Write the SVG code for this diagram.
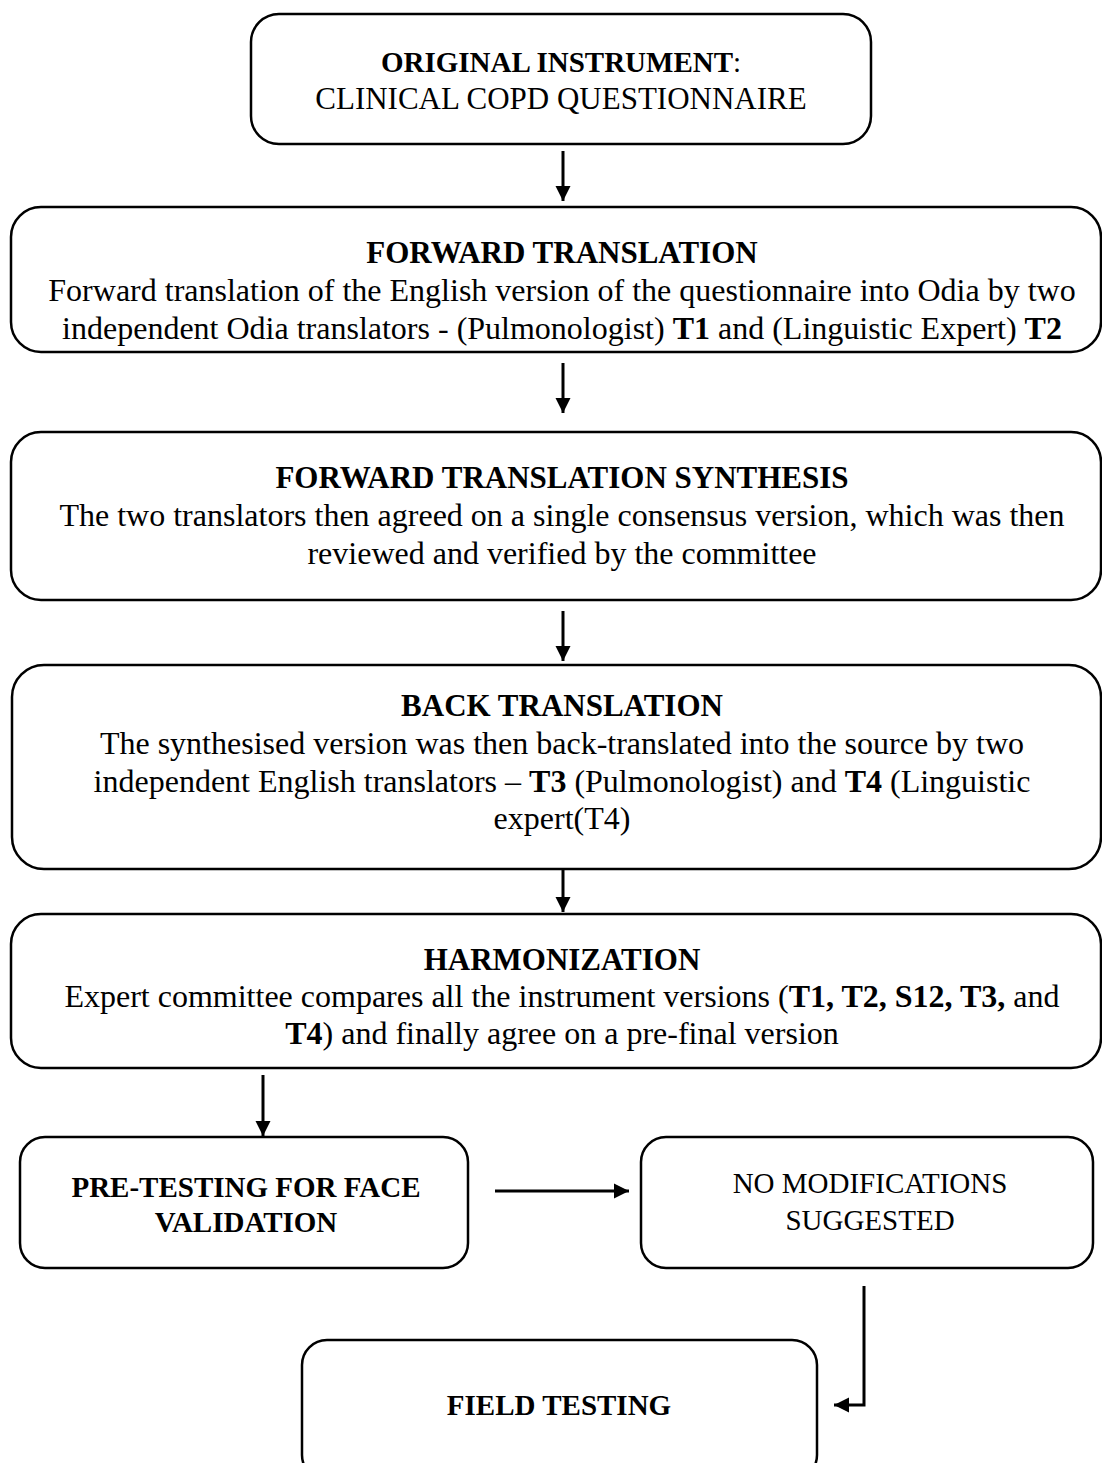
<svg xmlns="http://www.w3.org/2000/svg" width="1102" height="1463" viewBox="0 0 1102 1463">
<style>
.box{fill:#fff;stroke:#000;stroke-width:2.5}
.t{font-family:"Liberation Serif","Times New Roman",serif;font-size:32px;fill:#000;text-anchor:middle}
.h{font-size:31px;font-weight:bold}
.s{font-size:29px}
.b{font-weight:bold}
.c{stroke:#000;stroke-width:3;fill:none}
</style>
<defs>
<marker id="ah" viewBox="0 0 10 10" refX="10" refY="5" markerWidth="5" markerHeight="6" markerUnits="strokeWidth" orient="auto">
<path d="M0,0 L10,5 L0,10 Z" fill="#000"/>
</marker>
</defs>
<rect width="1102" height="1463" fill="#fff"/>
<g id="n1">
<rect class="box" x="251" y="14" width="620" height="130" rx="28"/>
<text class="t" x="561" y="72" style="font-size:29px"><tspan class="b">ORIGINAL INSTRUMENT</tspan>:</text>
<text class="t" x="561" y="109" style="font-size:31px">CLINICAL COPD QUESTIONNAIRE</text>
</g>
<g id="n2">
<rect class="box" x="11" y="207" width="1090" height="145" rx="30"/>
<text class="t h" x="562" y="263">FORWARD TRANSLATION</text>
<text class="t" x="562" y="301">Forward translation of the English version of the questionnaire into Odia by two</text>
<text class="t" x="562" y="339">independent Odia translators - (Pulmonologist) <tspan class="b">T1</tspan> and (Linguistic Expert) <tspan class="b">T2</tspan></text>
</g>
<g id="n3">
<rect class="box" x="11" y="432" width="1090" height="168" rx="30"/>
<text class="t h" x="562" y="488">FORWARD TRANSLATION SYNTHESIS</text>
<text class="t" x="562" y="526">The two translators then agreed on a single consensus version, which was then</text>
<text class="t" x="562" y="564">reviewed and verified by the committee</text>
</g>
<g id="n4">
<rect class="box" x="12" y="665" width="1089" height="204" rx="32"/>
<text class="t h" x="562" y="716">BACK TRANSLATION</text>
<text class="t" x="562" y="754">The synthesised version was then back-translated into the source by two</text>
<text class="t" x="562" y="792">independent English translators – <tspan class="b">T3</tspan> (Pulmonologist) and <tspan class="b">T4</tspan> (Linguistic</text>
<text class="t" x="562" y="829">expert(T4)</text>
</g>
<g id="n5">
<rect class="box" x="11" y="914" width="1090" height="154" rx="30"/>
<text class="t h" x="562" y="970">HARMONIZATION</text>
<text class="t" x="562" y="1007">Expert committee compares all the instrument versions (<tspan class="b">T1, T2, S12, T3,</tspan> and</text>
<text class="t" x="562" y="1044"><tspan class="b">T4</tspan>) and finally agree on a pre-final version</text>
</g>
<g id="n6">
<rect class="box" x="20" y="1137" width="448" height="131" rx="25"/>
<text class="t s b" x="246" y="1197">PRE-TESTING FOR FACE</text>
<text class="t s b" x="246" y="1232">VALIDATION</text>
</g>
<g id="n7">
<rect class="box" x="641" y="1137" width="452" height="131" rx="25"/>
<text class="t s" x="870" y="1193">NO MODIFICATIONS</text>
<text class="t s" x="870" y="1230">SUGGESTED</text>
</g>
<g id="n8">
<rect class="box" x="302" y="1340" width="515" height="140" rx="25"/>
<text class="t s b" x="559" y="1415">FIELD TESTING</text>
</g>
<g id="connectors">
<line class="c" x1="563" y1="151" x2="563" y2="201" marker-end="url(#ah)"/>
<line class="c" x1="563" y1="363" x2="563" y2="413" marker-end="url(#ah)"/>
<line class="c" x1="563" y1="611" x2="563" y2="661" marker-end="url(#ah)"/>
<line class="c" x1="563" y1="870" x2="563" y2="912" marker-end="url(#ah)"/>
<line class="c" x1="263" y1="1075" x2="263" y2="1136" marker-end="url(#ah)"/>
<line class="c" x1="495" y1="1191" x2="629" y2="1191" marker-end="url(#ah)"/>
<polyline class="c" points="864,1286 864,1405 834,1405" marker-end="url(#ah)"/>
</g>
</svg>
